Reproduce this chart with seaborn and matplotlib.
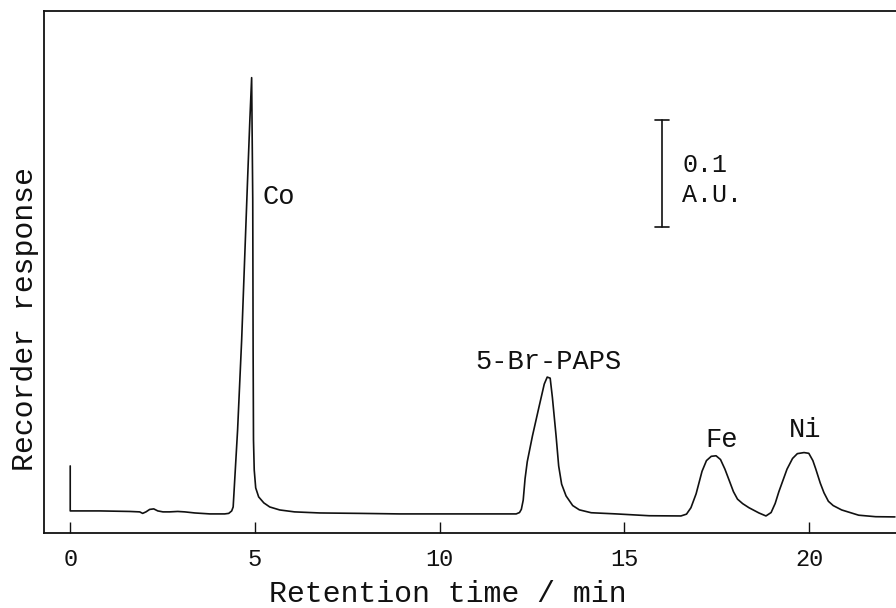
import matplotlib
matplotlib.use("Agg")
import matplotlib.pyplot as plt
import seaborn as sns
import pandas as pd

# Retention time (min) and detector response (A.U.)
time_min = [0.00, 0.00, 0.80, 1.61, 1.88, 1.96, 2.05, 2.15, 2.26, 2.37, 2.51, 2.69,
            2.91, 3.10, 3.37, 3.78, 4.18, 4.29, 4.37, 4.41, 4.53, 4.64, 4.72, 4.80,
            4.86, 4.91, 4.94, 4.95, 4.96, 4.98, 5.02, 5.10, 5.24, 5.40, 5.67, 6.07,
            6.75, 7.83, 8.91, 10.26, 11.61, 12.07, 12.16, 12.21, 12.26, 12.31, 12.37,
            12.51, 12.69, 12.83, 12.91, 12.99, 13.05, 13.15, 13.22, 13.30, 13.42,
            13.60, 13.78, 14.10, 14.78, 15.67, 16.53, 16.68, 16.80, 16.94, 17.10,
            17.22, 17.35, 17.48, 17.60, 17.72, 17.83, 17.95, 18.06, 18.20, 18.37,
            18.64, 18.83, 18.97, 19.08, 19.18, 19.40, 19.55, 19.68, 19.86, 19.99,
            20.10, 20.18, 20.30, 20.40, 20.52, 20.65, 20.88, 21.34, 21.80, 22.32]
response_au = [0.0420, 0.0000, 0.0000, -0.0005, -0.0009, -0.0023, -0.0009, 0.0014,
               0.0019, 0.0000, -0.0009, -0.0009, -0.0005, -0.0009, -0.0019, -0.0028,
               -0.0028, -0.0023, 0.0000, 0.0037, 0.0757, 0.1598, 0.2346, 0.3093,
               0.3636, 0.4047, 0.2907, 0.1505, 0.0664, 0.0383, 0.0215, 0.0131, 0.0075,
               0.0037, 0.0009, -0.0009, -0.0019, -0.0023, -0.0028, -0.0028, -0.0028,
               -0.0028, -0.0015, 0.0015, 0.0100, 0.0300, 0.0460, 0.0700, 0.0975, 0.1185,
               0.1250, 0.1240, 0.1060, 0.0700, 0.0420, 0.0250, 0.0140, 0.0050, 0.0010,
               -0.0017, -0.0028, -0.0045, -0.0047, -0.0030, 0.0030, 0.0160, 0.0370,
               0.0470, 0.0510, 0.0515, 0.0480, 0.0390, 0.0290, 0.0180, 0.0110, 0.0068,
               0.0030, -0.0019, -0.0047, -0.0015, 0.0070, 0.0180, 0.0390, 0.0490,
               0.0535, 0.0545, 0.0538, 0.0470, 0.0390, 0.0260, 0.0170, 0.0090, 0.0050,
               0.0009, -0.0040, -0.0054, -0.0056]

peak_names = ["Co", "5-Br-PAPS", "Fe", "Ni"]
peak_label_x = [5.20, 12.94, 17.64, 19.89]
peak_label_y = [0.2935, 0.139, 0.0664, 0.0757]
x_ticks = [0, 5, 10, 15, 20]
scale_bar_au = 0.1

sns.set_theme(style="white")
plt.rcParams["font.family"] = ["Liberation Mono", "DejaVu Sans Mono"]

fig = plt.figure(figsize=(8.96, 6.08), dpi=100)
ax = fig.add_axes([0.0491, 0.1234, 0.9509, 0.8586])

df = pd.DataFrame({"t": time_min, "a": response_au})
sns.lineplot(data=df, x="t", y="a", sort=False, estimator=None,
             color="#111111", linewidth=1.2, ax=ax)

ax.set_xlim(-0.71, 22.35)
ax.set_ylim(-0.0206, 0.467)
ax.set_xticks(x_ticks)
ax.set_xticklabels([str(v) for v in x_ticks], fontsize=17)
ax.set_yticks([])
ax.tick_params(axis="x", direction="in", length=8, width=1.0, pad=11,
               colors="#111111", bottom=True)
for side in ["left", "bottom", "top"]:
    ax.spines[side].set_color("#111111")
    ax.spines[side].set_linewidth(1.3)
ax.spines["right"].set_visible(False)

ax.set_xlabel("Retention time / min", fontsize=21.5, color="#111111", va="center")
ax.xaxis.set_label_coords(0.474, -0.117)
ax.set_ylabel("Recorder response", fontsize=21.5, color="#111111", va="center")
ax.yaxis.set_label_coords(-0.0223, 0.41)

# peak labels
for name, lx, ly in zip(peak_names, peak_label_x, peak_label_y):
    ha = "left" if name == "Co" else "center"
    ax.text(lx, ly, name, fontsize=19.5, ha=ha, va="center", color="#111111")

# 0.1 A.U. scale bar
bar_x = 16.02
bar_top = 0.3654
ax.plot([bar_x, bar_x], [bar_top, bar_top - scale_bar_au], color="#111111", lw=1.2)
ax.plot([bar_x - 0.19, bar_x + 0.19], [bar_top, bar_top], color="#111111", lw=1.2)
ax.plot([bar_x - 0.19, bar_x + 0.19], [bar_top - scale_bar_au] * 2, color="#111111", lw=1.2)
ax.text(16.56, 0.3234, f"{scale_bar_au:g}", fontsize=18, ha="left", va="center", color="#111111")
ax.text(16.56, 0.2953, "A.U.", fontsize=18, ha="left", va="center", color="#111111")

fig.savefig("out.png", dpi=100)
